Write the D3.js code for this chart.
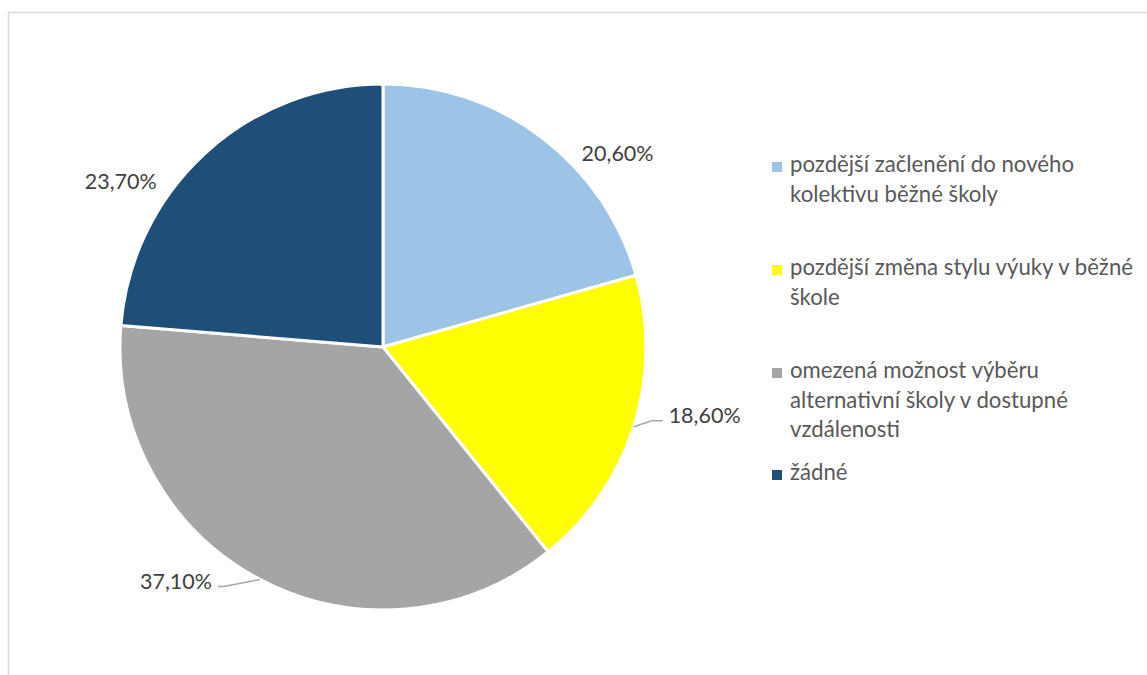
<!DOCTYPE html>
<html>
<head>
<meta charset="utf-8">
<script src="https://cdn.jsdelivr.net/npm/d3@7"></script>
<style>
  html, body { margin: 0; padding: 0; background: #fff; }
  svg { display: block; }
  text { font-family: Lato, "Open Sans", sans-serif; }
</style>
</head>
<body>
<svg id="chart" width="1147" height="675"></svg>
<script>
// Survey answers and their shares (percent)
const categories = [
  "pozdější začlenění do nového kolektivu běžné školy",
  "pozdější změna stylu výuky v běžné škole",
  "omezená možnost výběru alternativní školy v dostupné vzdálenosti",
  "žádné"
];
const values = [20.6, 18.6, 37.1, 23.7];
const valueLabels = ["20,60%", "18,60%", "37,10%", "23,70%"];
// Legend entries, pre-wrapped into lines
const legendLines = [
  ["pozdější začlenění do nového", "kolektivu běžné školy"],
  ["pozdější změna stylu výuky v běžné", "škole"],
  ["omezená možnost výběru", "alternativní školy v dostupné", "vzdálenosti"],
  ["žádné"]
];
const colors = ["#9DC3E6", "#FFFF00", "#A5A5A5", "#1F4E79"];

const svg = d3.select("#chart");

// chart frame (top and left edges visible)
svg.append("path")
  .attr("d", "M8.5,675 V12.5 H1147")
  .attr("fill", "none")
  .attr("stroke", "#D9D9D9")
  .attr("stroke-width", 1.5);

const cx = 383, cy = 347, radius = 263;
const color = d3.scaleOrdinal().domain(categories).range(colors);

const pie = d3.pie().sort(null).value(d => d.value);
const arcs = pie(categories.map((c, i) => ({ name: c, value: values[i], label: valueLabels[i] })));
const arc = d3.arc().innerRadius(0).outerRadius(radius);

const g = svg.append("g").attr("transform", `translate(${cx},${cy})`);

g.selectAll("path.slice")
  .data(arcs)
  .join("path")
  .attr("class", "slice")
  .attr("d", arc)
  .attr("fill", d => color(d.data.name))
  .attr("stroke", "#fff")
  .attr("stroke-width", 3)
  .attr("stroke-linejoin", "round");

// label placement relative to the slice's outer mid point
const labelLayout = [
  { dx: 76, dy: 24, anchor: "middle", leader: false },
  { dx: 35, dy: -4, anchor: "start", leader: true, elbow: [18, -6] },
  { dx: -48, dy: 9.5, anchor: "end", leader: true, elbow: [-36, 7] },
  { dx: -84, dy: 35, anchor: "middle", leader: false }
];

function edgePoint(d) {
  const a = (d.startAngle + d.endAngle) / 2;
  return [Math.sin(a) * radius, -Math.cos(a) * radius];
}

arcs.forEach((d, i) => {
  const [px, py] = edgePoint(d);
  const L = labelLayout[i];
  if (L.leader) {
    const ex = px + L.elbow[0], ey = py + L.elbow[1];
    const endX = px + L.dx + (L.anchor === "start" ? -6 : 6);
    g.append("polyline")
      .attr("points", [[px, py], [ex, ey], [endX, ey]].map(p => p.join(",")).join(" "))
      .attr("fill", "none")
      .attr("stroke", "#A6A6A6")
      .attr("stroke-width", 1.5);
  }
  g.append("text")
    .attr("x", px + L.dx)
    .attr("y", py + L.dy)
    .attr("text-anchor", L.anchor)
    .attr("font-size", 21.5)
    .attr("fill", "#404040")
    .text(d.data.label);
});

// legend
const legendX = 770, textX = 790, lineH = 29.5;
const legendTop = [172, 275, 378, 480];
const legend = svg.append("g");
legendLines.forEach((lines, i) => {
  const item = legend.append("g");
  item.append("rect")
    .attr("x", legendX + 2)
    .attr("y", legendTop[i] - 10)
    .attr("width", 10)
    .attr("height", 10)
    .attr("fill", color(categories[i]));
  const t = item.append("text")
    .attr("x", textX)
    .attr("y", legendTop[i])
    .attr("font-size", 22.2)
    .attr("fill", "#595959");
  lines.forEach((ln, j) => {
    t.append("tspan").attr("x", textX).attr("y", legendTop[i] + j * lineH).text(ln);
  });
});
</script>
</body>
</html>
